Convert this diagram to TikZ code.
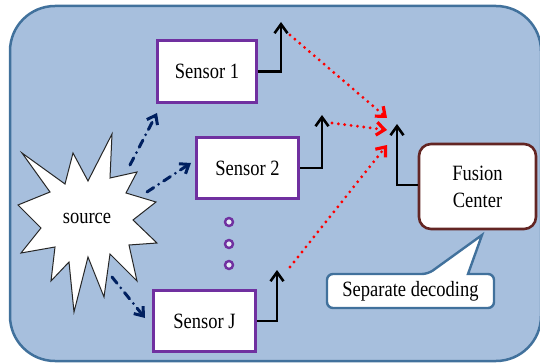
\documentclass[tikz,border=0pt]{standalone}
\usepackage{fontspec}
\usepackage{graphicx}
\setmainfont{Liberation Serif}
\usetikzlibrary{arrows.meta}

\definecolor{panelfill}{HTML}{A7BFDD}
\definecolor{panelline}{HTML}{41719C}
\definecolor{sensorline}{HTML}{7030A0}
\definecolor{navy}{HTML}{002060}
\definecolor{fusionline}{HTML}{632523}

% slightly tall lettering
\newcommand\tallt[1]{\scalebox{1}[1.18]{#1}}

\tikzset{
  label font/.style={font=\fontsize{18.5}{27}\selectfont},
  sensorbox/.style={draw=sensorline, line width=3pt, fill=white,
    inner sep=0pt, label font},
  fusionbox/.style={draw=fusionline, line width=2.6pt, fill=white,
    rounded corners=12pt, inner sep=0pt, align=center, label font},
  signal/.style={draw=black, line width=2.6pt,
    -{Straight Barb[length=9pt,width=13pt,line width=2.6pt]}},
  report/.style={draw=red, line width=3.2pt, line cap=round,
    dash pattern=on 0pt off 6.4pt,
    -{Straight Barb[length=8pt,width=13pt,line width=3.2pt]}},
  observe/.style={draw=navy, line width=3pt, line cap=round,
    dash pattern=on 8pt off 6pt on 0pt off 6pt,
    -{Straight Barb[length=8pt,width=12pt,line width=3pt]}},
  moredots/.style={draw=sensorline, line width=2.4pt, fill=white!70!panelfill},
  calloutbox/.style={draw=panelline, line width=2.4pt, fill=white},
}

\begin{document}
\begin{tikzpicture}[x=1pt,y=-1pt]
\useasboundingbox (0,0) rectangle (540,363);

% enclosing panel
\draw[draw=panelline, fill=panelfill, line width=2.5pt, rounded corners=45pt]
  (10,6) rectangle (541,361);

% source burst
\draw[fill=white, draw=black!85, line width=1pt, line join=miter]
  (112,134) -- (110,178) -- (137,172) -- (126,193) -- (156,202) -- (133,220)
  -- (157,243) -- (129,245) -- (137,281) -- (110,254) -- (104,297) -- (88,257)
  -- (74,312) -- (69,262) -- (51,281) -- (55,247) -- (21,253) -- (41,228)
  -- (18,205) -- (50,192) -- (22,153) -- (65,184) -- (73,153) -- (88,181)
  -- cycle;
\node[label font] (src) at (87,218) {\tallt{source}};

% sensors
\node[sensorbox, minimum width=99pt, minimum height=62pt] (s1) at (207,71.5) {\tallt{Sensor 1}};
\node[sensorbox, minimum width=102pt, minimum height=61pt] (s2) at (247.5,168) {\tallt{Sensor 2}};
\node[sensorbox, minimum width=102pt, minimum height=61pt] (sJ) at (204.5,321) {\tallt{Sensor J}};

% vertical ellipsis between sensors
\node[moredots, circle, minimum size=8pt, inner sep=0pt] (d1) at (229,222) {};
\node[moredots, circle, minimum size=8pt, inner sep=0pt] (d2) at (229,244) {};
\node[moredots, circle, minimum size=8pt, inner sep=0pt] (d3) at (229,265) {};

% fusion center
\node[fusionbox, minimum width=117pt, minimum height=85pt] (fc) at (477.5,186.5)
  {\tallt{Fusion}\\\tallt{Center}};

% source observations
\coordinate (o1a) at (130,165); \coordinate (o1b) at (157,113);
\coordinate (o2a) at (147,192); \coordinate (o2b) at (191,163);
\coordinate (o3a) at (112,277); \coordinate (o3b) at (145,318);
\draw[observe] (o1a) -- (o1b);
\draw[observe] (o2a) -- (o2b);
\draw[observe] (o3a) -- (o3b);

% sensor outputs
\coordinate (t1) at (281,22);
\coordinate (t2) at (322,115);
\coordinate (tJ) at (277,270);
\draw[signal] (s1.east) -| (t1);
\draw[signal] (s2.east) -| (t2);
\draw[signal] (sJ.east) -| (tJ);

% fusion input
\coordinate (tf) at (397,124);
\draw[signal] (fc.west |- 0,185) -| (tf);

% links to the fusion center
\coordinate (r1a) at (290,35);  \coordinate (r1b) at (387,118);
\coordinate (r2a) at (332,123); \coordinate (r2b) at (387,130);
\coordinate (r3a) at (290,267); \coordinate (r3b) at (387,145);
\draw[report] (r1a) -- (r1b);
\draw[report] (r2a) -- (r2b);
\draw[report] (r3a) -- (r3b);

% callout
\coordinate (ptip) at (482,235);
\draw[calloutbox] (410,308) [rounded corners=6pt] -- (327,308) -- (327,274)
  -- (428,274) [sharp corners] -- (ptip) -- (468,274) [rounded corners=6pt]
  -- (494,274) -- (494,308) -- cycle;
\node[label font] (sd) at (410.5,291) {\tallt{Separate decoding}};
\end{tikzpicture}
\end{document}
